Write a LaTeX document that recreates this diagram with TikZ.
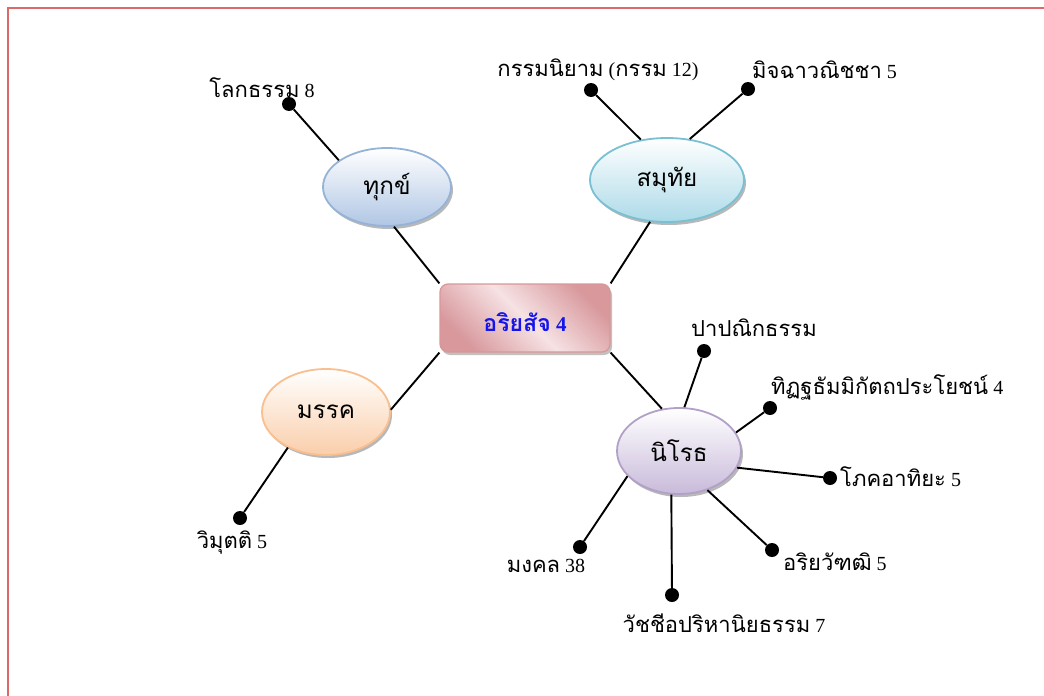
\documentclass[tikz,border=0pt]{standalone}
\usepackage{fontspec}
\setmainfont{Liberation Serif}
\newfontfamily\thaifont[Script=Thai,Scale=1.1]{Loma}
\usetikzlibrary{shapes.geometric,shadows}
\newcommand\tht[1]{{\thaifont #1}}
\definecolor{framecol}{RGB}{220,105,105}
\definecolor{dukB}{RGB}{149,179,215}\definecolor{dukF}{RGB}{176,198,228}
\definecolor{samB}{RGB}{120,192,210}\definecolor{samF}{RGB}{172,218,232}
\definecolor{magB}{RGB}{250,191,143}\definecolor{magF}{RGB}{250,206,170}
\definecolor{nirB}{RGB}{178,161,199}\definecolor{nirF}{RGB}{200,186,218}
\definecolor{cenB}{RGB}{218,150,150}\definecolor{cenD}{RGB}{216,152,156}\definecolor{cenL}{RGB}{246,226,228}
\definecolor{ctext}{RGB}{20,20,235}
\tikzset{
  topic/.style={ellipse, draw=#1B, line width=1.8pt, top color=white, bottom color=#1F,
    inner sep=0pt, font=\fontsize{22}{26}\selectfont\thaifont,
    drop shadow={shadow xshift=2pt, shadow yshift=-3pt, fill=gray!70, opacity=0.8}},
  centre/.style={rectangle, rounded corners=8pt, draw=cenB, line width=1.2pt,
    shading=axis, top color=cenD, bottom color=cenD, middle color=cenL, shading angle=135,
    minimum width=170pt, minimum height=68pt, inner sep=0pt,
    drop shadow={shadow xshift=2pt, shadow yshift=-3pt, fill=gray!60, opacity=0.8}},
  dotn/.style={circle, fill=black, inner sep=0pt, minimum size=14pt},
  lbl/.style={inner sep=0pt, font=\fontsize{20}{24}\selectfont},
  conn/.style={line width=1.9pt, black}
}
\begin{document}
\begin{tikzpicture}[x=1pt,y=-1pt]
\useasboundingbox (0,0) rectangle (1044,696);
\draw[framecol, line width=2pt] (8,697) -- (8,8) -- (1045,8);
% centre
\node[centre] (c) at (525,318) {};
\node[font=\fontsize{21}{26}\selectfont\bfseries, text=ctext] (ct) at (525,322) {{\thaifont\bfseries อริยสัจ} 4};
% topics
\node[topic=duk, minimum width=128pt, minimum height=78pt] (duk) at (387,187) {ทุกข์};
\node[topic=sam, minimum width=154pt, minimum height=84pt] (sam) at (667,180) {สมุทัย};
\node[topic=mag, minimum width=128pt, minimum height=86pt] (mag) at (326,412) {มรรค};
\node[topic=nir, minimum width=124pt, minimum height=86pt] (nir) at (679,451) {นิโรธ};
% centre links
\draw[conn] (c.north west) -- (duk.-80);
\draw[conn] (c.north east) -- (sam.-112);
\draw[conn] (c.south west) -- (mag.2);
\draw[conn] (c.south east) -- (nir.112);
% dukkha
\node[dotn] (d1) at (289,104) {};
\node[lbl] (l1) at (262,88) {\tht{โลกธรรม} 8};
\draw[conn] (d1) -- (duk.151);
% samuthai
\node[dotn] (s1) at (591,90) {};
\node[lbl] (ls1) at (598,70) {\tht{กรรมนิยาม} (\tht{กรรม} 12)};
\draw[conn] (s1) -- (sam.123);
\node[dotn] (s2) at (748,89) {};
\node[lbl, anchor=west] (ls2) at (752,70) {\tht{มิจฉาวณิชชา} 5};
\draw[conn] (s2) -- (sam.61);
% magga
\node[dotn] (m1) at (240,518) {};
\node[lbl] (lm1) at (232,543) {\tht{วิมุตติ} 5};
\draw[conn] (m1) -- (mag.-137);
% nirodha
\node[dotn] (n1) at (704,351) {};
\node[lbl, anchor=west] (ln1) at (691,328) {\tht{ปาปณิกธรรม}};
\draw[conn] (n1) -- (nir.83);
\node[dotn] (n2) at (770,408) {};
\node[lbl, anchor=west] (ln2) at (771,387) {\tht{ทิฏฐธัมมิกัตถประโยชน์} 4};
\draw[conn] (n2) -- (nir.18);
\node[dotn] (n3) at (830,478) {};
\node[lbl, anchor=west] (ln3) at (840,477) {\tht{โภคอาทิยะ} 5};
\draw[conn] (n3) -- (nir.-16);
\node[dotn] (n4) at (772,550) {};
\node[lbl, anchor=west] (ln4) at (783,562) {\tht{อริยวัฑฒิ} 5};
\draw[conn] (n4) -- (nir.-54);
\node[dotn] (n5) at (672,595) {};
\node[lbl] (ln5) at (724,623) {\tht{วัชชีอปริหานิยธรรม} 7};
\draw[conn] (n5) -- (nir.-100);
\node[dotn] (n6) at (580,547) {};
\node[lbl] (ln6) at (546,566) {\tht{มงคล} 38};
\draw[conn] (n6) -- (nir.-154);
\end{tikzpicture}
\end{document}
